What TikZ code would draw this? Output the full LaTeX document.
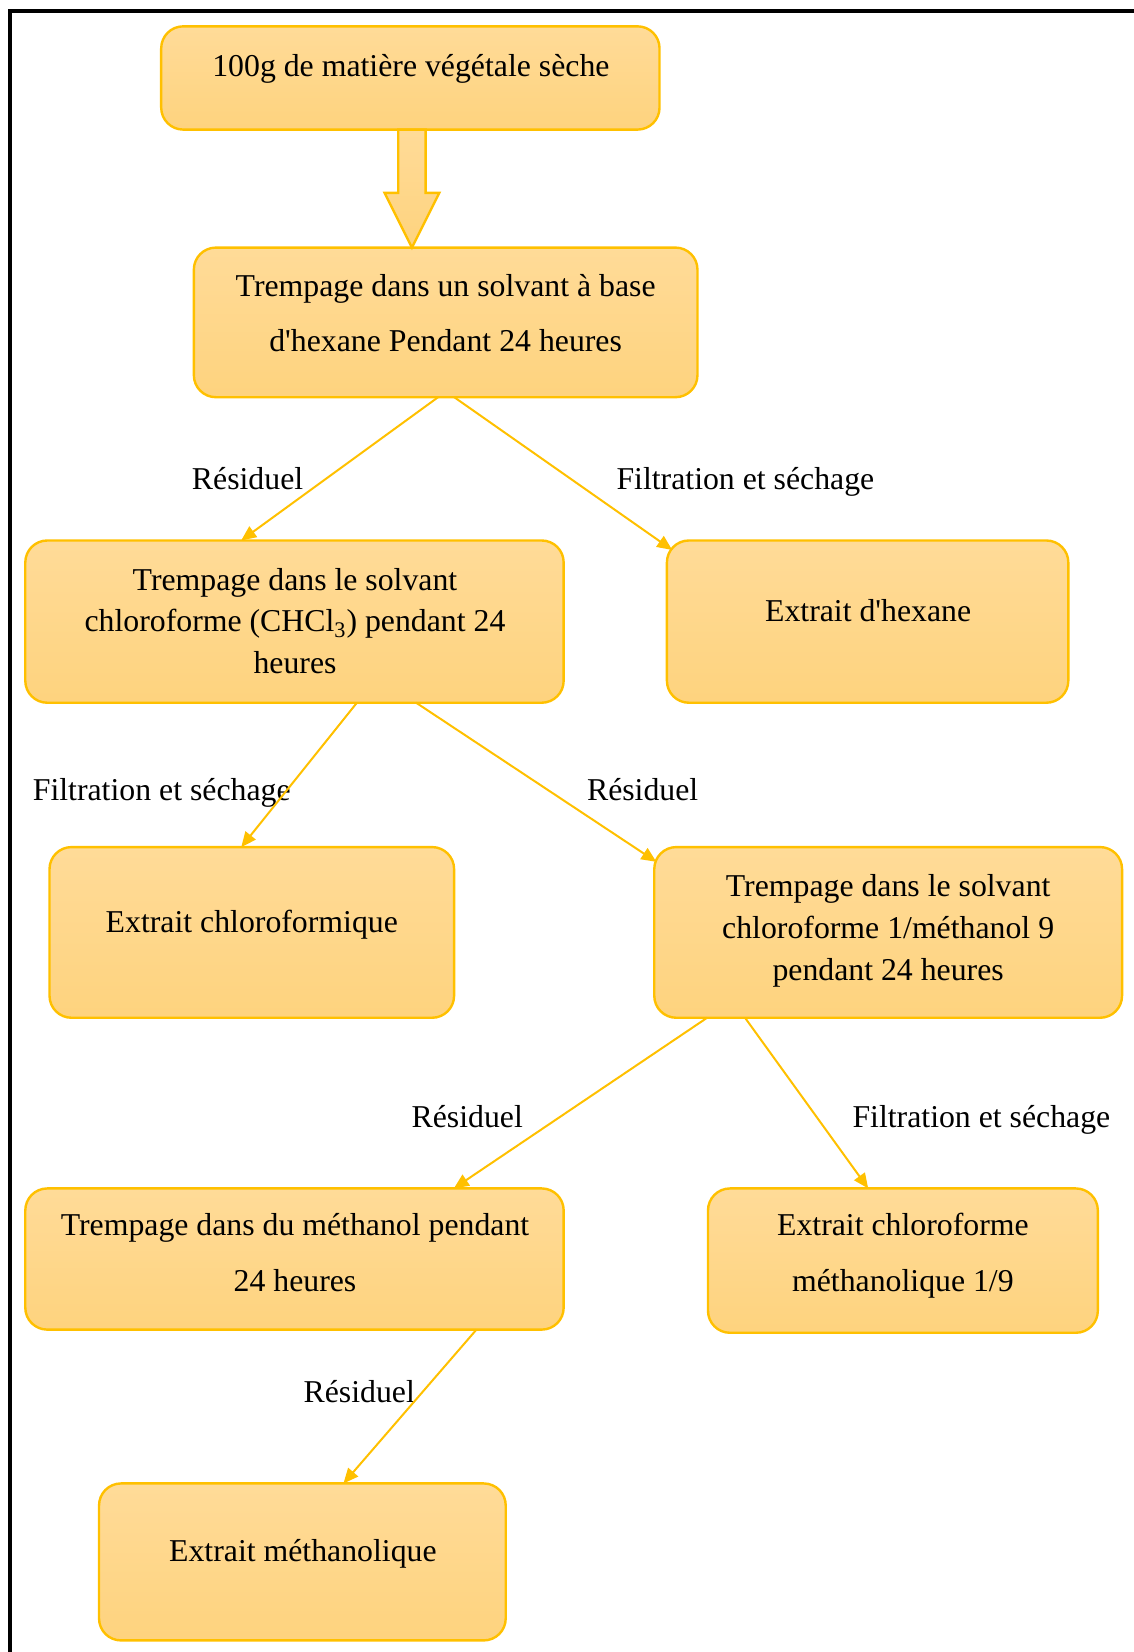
\documentclass[tikz,border=0pt]{standalone}
\usepackage{fontspec}
\setmainfont{Liberation Serif}
\usetikzlibrary{arrows.meta,calc}

\definecolor{edge}{RGB}{255,192,0}
\definecolor{filltop}{RGB}{255,219,152}
\definecolor{fillbot}{RGB}{254,211,126}
\newcommand\px{0.527pt}
% centred lines whose baseline is that of the first line
\newcommand\stack[1]{\begin{tabular}[t]{@{}c@{}}#1\end{tabular}}

\begin{document}
\begin{tikzpicture}[x=0.527pt,y=-0.527pt,
  every node/.style={font=\fontsize{15.9pt}{21pt}\selectfont},
  box/.style={draw=edge, line width=1.2pt, rounded corners=11pt,
    top color=filltop, bottom color=fillbot, inner sep=0pt, outer sep=0pt},
  txt/.style={anchor=base, inner sep=0pt, outer sep=0pt},
  lbl/.style={anchor=base, inner sep=0pt, outer sep=0pt},
  conn/.style={draw=edge, line width=1pt, -{Triangle[length=7.5pt,width=6.5pt]}},
  bigarrow/.style={draw=edge, line width=1.2pt, line join=miter,
    top color=filltop, bottom color=fillbot},
]
\useasboundingbox (0,0) rectangle (1076,1568);

% frame
\draw[line width=2pt] (9.5,1568) -- (9.5,10) -- (1076,10);

% boxes
\node[box, minimum width=473*\px, minimum height=98*\px]  (b1) at (389.5,74) {};
\node[box, minimum width=478*\px, minimum height=142*\px] (b2) at (423,306) {};
\node[box, minimum width=511*\px, minimum height=154*\px] (b3) at (279.5,590) {};
\node[box, minimum width=381*\px, minimum height=154*\px] (b4) at (823.5,590) {};
\node[box, minimum width=384*\px, minimum height=162*\px] (b5) at (239,885) {};
\node[box, minimum width=444*\px, minimum height=162*\px] (b6) at (843,885) {};
\node[box, minimum width=511*\px, minimum height=134*\px] (b7) at (279.5,1195) {};
\node[box, minimum width=370*\px, minimum height=137*\px] (b8) at (857,1196.5) {};
\node[box, minimum width=386*\px, minimum height=149*\px] (b9) at (287,1482.5) {};

% box texts
\node[txt] (t1) at (390,73) {100g de matière végétale sèche};
\node[txt] (t2) at (423,281) {\stack{Trempage dans un solvant à base\\[6.7pt] d\textquotesingle hexane Pendant 24 heures}};
\node[txt] (t3) at (280,560) {\stack{Trempage dans le solvant\\ chloroforme (CHCl\textsubscript{3}) pendant 24\\ heures}};
\node[txt] (t4) at (824,590) {Extrait d\textquotesingle hexane};
\node[txt] (t5) at (239,885) {Extrait chloroformique};
\node[txt] (t6) at (843,851) {\stack{Trempage dans le solvant\\ chloroforme 1/méthanol 9\\ pendant 24 heures}};
\node[txt] (t7) at (280,1173) {\stack{Trempage dans du méthanol pendant\\[6.7pt] 24 heures}};
\node[txt] (t8) at (857,1173) {\stack{Extrait chloroforme\\[6.7pt] méthanolique 1/9}};
\node[txt] (t9) at (287.5,1482) {Extrait méthanolique};

% block arrow between the first two steps
\coordinate (tip) at ($(b2.north -| b1.south)+(1.5,0)$);
\coordinate (top) at (tip |- b1.south);
\coordinate (neck) at ($(tip)+(0,-52)$);
\path[bigarrow] ($(top)+(-13,0)$) -- ($(neck)+(-13,0)$) -- ($(neck)+(-26,0)$)
  -- (tip) -- ($(neck)+(26,0)$) -- ($(neck)+(13,0)$) -- ($(top)+(13,0)$) -- cycle;

% connector labels
\node[lbl] (l1) at (235,465)   {Résiduel};
\node[lbl] (l2) at (707.5,465) {Filtration et séchage};
\node[lbl] (l3) at (153.5,760) {Filtration et séchage};
\node[lbl] (l4) at (610,760)   {Résiduel};
\node[lbl] (l5) at (443.5,1070) {Résiduel};
\node[lbl] (l6) at (931.5,1070) {Filtration et séchage};
\node[lbl] (l7) at (341,1331)  {Résiduel};

% connectors
\draw[conn] ($(b2.south west)!0.485!(b2.south east)$) -- ($(b3.north west)!0.401!(b3.north east)$);
\draw[conn] ($(b2.south west)!0.517!(b2.south east)$) -- ([shift={(5,9)}]b4.north west);
\draw[conn] ($(b3.south west)!0.616!(b3.south east)$) -- ($(b5.north west)!0.474!(b5.north east)$);
\draw[conn] ($(b3.south west)!0.726!(b3.south east)$) -- ([shift={(2,14)}]b6.north west);
\draw[conn] ($(b6.south west)!0.113!(b6.south east)$) -- ($(b7.north west)!0.796!(b7.north east)$);
\draw[conn] ($(b6.south west)!0.194!(b6.south east)$) -- ($(b8.north west)!0.411!(b8.north east)$);
\draw[conn] ($(b7.south west)!0.838!(b7.south east)$) -- ($(b9.north west)!0.601!(b9.north east)$);
\end{tikzpicture}
\end{document}
